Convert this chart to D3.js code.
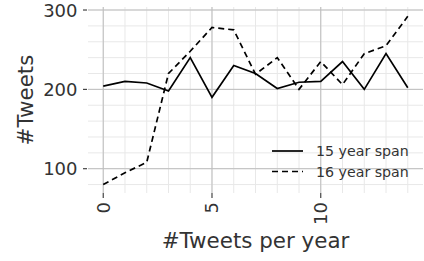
<!DOCTYPE html>
<html lang="en">
<head>
    <meta charset="UTF-8">
    <title>Tweets per year</title>
    <style>
        body { margin: 0; background: #fff; }
        text { font-family: "DejaVu Sans", sans-serif; fill: #333; }
        .grid-minor line { stroke: #e8e8e8; stroke-width: 1; }
        .grid-major line { stroke: #bdbdbd; stroke-width: 1; }
        .tick-mark { stroke: #333; stroke-width: 1.1; }
    </style>
</head>
<body>
<svg id="svg" width="424" height="261"></svg>
<script src="https://cdn.jsdelivr.net/npm/d3@7"></script>
<script>
    // tweets per year (x) and tweet counts for each span
    const perYear = [0, 1, 2, 3, 4, 5, 6, 7, 8, 9, 10, 11, 12, 13, 14];
    const span15 = [204, 210, 208, 198, 240, 190, 230, 220, 201, 209, 210, 235, 200, 245, 202];
    const span16 = [80, 95, 108, 220, 248, 278, 275, 219, 240, 200, 235, 206, 245, 255, 292];
    const seriesNames = ["15 year span", "16 year span"];
    const xTicks = [0, 5, 10];
    const yTicks = [100, 200, 300];

    const svg = d3.select("#svg");
    const pLeft = 88, pRight = 423, pTop = 7, pBottom = 193;

    const x = d3.scaleLinear().domain([-0.7, 14.7]).range([pLeft, pRight]);
    const y = d3.scaleLinear().domain([69.4, 303.8]).range([pBottom, pTop]);

    // minor grid every 1 on x, every 20 on y
    const minor = svg.append("g").attr("class", "grid-minor");
    minor.selectAll(".vx").data(d3.range(0, 15)).enter().append("line")
        .attr("x1", d => x(d)).attr("x2", d => x(d))
        .attr("y1", pTop).attr("y2", pBottom);
    minor.selectAll(".hy").data(d3.range(80, 301, 20)).enter().append("line")
        .attr("x1", pLeft).attr("x2", pRight)
        .attr("y1", d => y(d)).attr("y2", d => y(d));

    const major = svg.append("g").attr("class", "grid-major");
    major.selectAll(".vx").data(xTicks).enter().append("line")
        .attr("x1", d => x(d)).attr("x2", d => x(d))
        .attr("y1", pTop).attr("y2", pBottom);
    major.selectAll(".hy").data(yTicks).enter().append("line")
        .attr("x1", pLeft).attr("x2", pRight)
        .attr("y1", d => y(d)).attr("y2", d => y(d));

    // tick marks + labels
    svg.selectAll(".ytick").data(yTicks).enter().append("line")
        .attr("class", "tick-mark")
        .attr("x1", pLeft - 5).attr("x2", pLeft - 1)
        .attr("y1", d => y(d)).attr("y2", d => y(d));
    svg.selectAll(".ylab").data(yTicks).enter().append("text")
        .attr("x", pLeft - 10.5).attr("y", d => y(d))
        .attr("dy", "0.36em")
        .attr("text-anchor", "end")
        .style("font-size", "18px")
        .text(d => d);

    svg.selectAll(".xtick").data(xTicks).enter().append("line")
        .attr("class", "tick-mark")
        .attr("x1", d => x(d)).attr("x2", d => x(d))
        .attr("y1", pBottom).attr("y2", pBottom + 5);
    svg.selectAll(".xlab").data(xTicks).enter().append("text")
        .attr("transform", d => "translate(" + x(d) + "," + (pBottom + 9) + ") rotate(-90)")
        .attr("dy", "0.36em")
        .attr("text-anchor", "end")
        .style("font-size", "18px")
        .text(d => d);

    // axis titles
    svg.append("text")
        .attr("x", (pLeft + pRight) / 2).attr("y", 248)
        .attr("text-anchor", "middle")
        .style("font-size", "21.4px")
        .text("#Tweets per year");
    svg.append("text")
        .attr("transform", "translate(33," + ((pTop + pBottom) / 2) + ") rotate(-90)")
        .attr("text-anchor", "middle")
        .style("font-size", "21.4px")
        .text("#Tweets");

    // lines
    const line = d3.line().x((d, i) => x(perYear[i])).y(d => y(d));
    svg.append("path").datum(span16)
        .attr("d", line)
        .attr("fill", "none").attr("stroke", "#000")
        .attr("stroke-width", 1.7)
        .attr("stroke-dasharray", "6,4");
    svg.append("path").datum(span15)
        .attr("d", line)
        .attr("fill", "none").attr("stroke", "#000")
        .attr("stroke-width", 1.7);

    // legend
    const legend = svg.append("g").attr("transform", "translate(272,151)");
    seriesNames.forEach(function(name, i) {
        legend.append("line")
            .attr("x1", 0).attr("x2", 31)
            .attr("y1", i * 20.5).attr("y2", i * 20.5)
            .attr("stroke", "#000").attr("stroke-width", 1.7)
            .attr("stroke-dasharray", i === 1 ? "6,4" : null);
        legend.append("text")
            .attr("x", 44).attr("y", i * 20.5)
            .attr("dy", "0.36em")
            .style("font-size", "14.2px")
            .text(name);
    });
</script>
</body>
</html>
